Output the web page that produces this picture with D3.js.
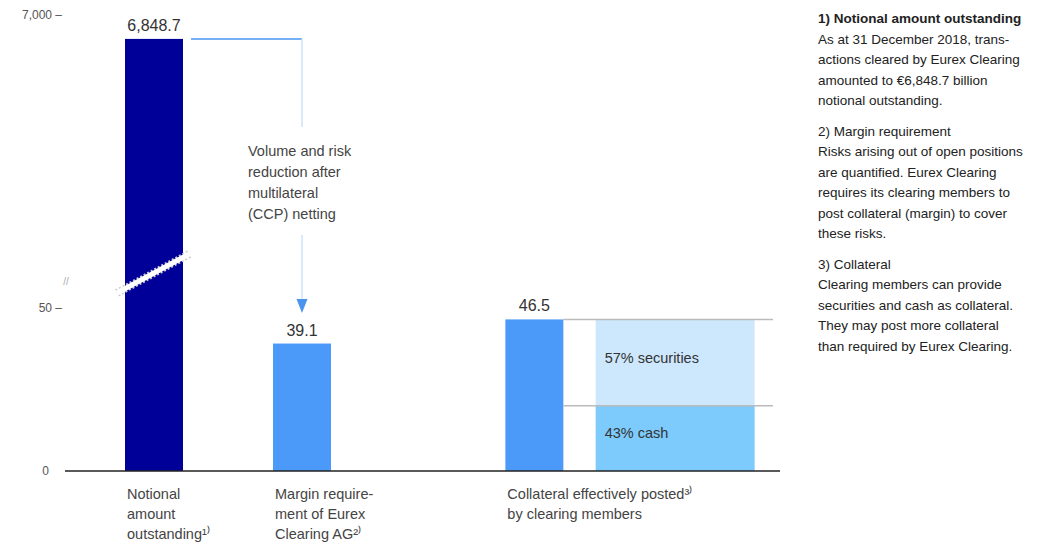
<!DOCTYPE html>
<html lang="en">
<head>
<meta charset="UTF-8">
<title>Eurex Clearing - netting and collateral</title>
<script src="https://cdn.jsdelivr.net/npm/d3@7/dist/d3.min.js"></script>
<style>
  body { margin: 0; background: #fff; }
  svg text { font-family: "Liberation Sans", Arial, sans-serif; }
</style>
</head>
<body>
<div id="container"></div>
<script>
// ---- data ----
var categories = ["Notional amount outstanding", "Margin requirement of Eurex Clearing AG", "Collateral effectively posted by clearing members"];
var values = [6848.7, 39.1, 46.5];
var valueLabels = ["6,848.7", "39.1", "46.5"];
var slots = [0, 1, 2.57];          // horizontal slot of each bar
var categoryLines = [
  ["Notional", "amount", "outstanding\u00B9\u207E"],
  ["Margin require-", "ment of Eurex", "Clearing AG\u00B2\u207E"],
  ["Collateral effectively posted\u00B3\u207E", "by clearing members"]
];
var splitNames = ["43% cash", "57% securities"];
var splitShares = [0.43, 0.57];
var lowTicks = [0, 50];
var highTicks = [7000];
var annotationLines = ["Volume and risk", "reduction after", "multilateral", "(CCP) netting"];
var notes = [
  { head: "1) Notional amount outstanding", bold: true,
    body: ["As at 31 December 2018, trans-", "actions cleared by Eurex Clearing", "amounted to \u20AC6,848.7 billion", "notional outstanding."] },
  { head: "2) Margin requirement", bold: false,
    body: ["Risks arising out of open positions", "are quantified. Eurex Clearing", "requires its clearing members to", "post collateral (margin) to cover", "these risks."] },
  { head: "3) Collateral", bold: false,
    body: ["Clearing members can provide", "securities and cash as collateral.", "They may post more collateral", "than required by Eurex Clearing."] }
];

var navy = "#000099", blue = "#4b9afa", cashColor = "#7dcbfc", secColor = "#cde8fd";

var width = 1053, height = 544;
var svg = d3.select("#container").append("svg")
    .attr("width", width).attr("height", height);

// broken y axis: lower segment and upper segment
var yLow = d3.scaleLinear().domain([0, 50]).range([471, 308]);
var yHigh = d3.scaleLinear().domain([6500, 7000]).range([94, 15]);
var x = d3.scaleLinear().domain([0, 1]).range([125, 273]);
var barW = 58;

// tick labels
lowTicks.forEach(function (t) {
  svg.append("text").attr("x", t === 0 ? 49 : 62).attr("y", yLow(t)).attr("dy", "0.35em")
    .attr("text-anchor", "end").attr("font-size", 12).attr("fill", "#555")
    .text(t === 0 ? d3.format(",")(t) : d3.format(",")(t) + " \u2013");
});
highTicks.forEach(function (t) {
  svg.append("text").attr("x", 62).attr("y", yHigh(t)).attr("dy", "0.35em")
    .attr("text-anchor", "end").attr("font-size", 12).attr("fill", "#555")
    .text(d3.format(",")(t) + " \u2013");
});
svg.append("text").attr("x", 66).attr("y", 285).attr("text-anchor", "middle")
  .attr("font-size", 10).attr("fill", "#aaa").text("//");

// bars
function barTop(v) { return v > 50 ? yHigh(v) : yLow(v); }
svg.selectAll("rect.bar").data(values).enter().append("rect")
  .attr("class", "bar")
  .attr("x", function (d, i) { return x(slots[i]); })
  .attr("y", function (d) { return barTop(d); })
  .attr("width", barW)
  .attr("height", function (d) { return yLow(0) - barTop(d); })
  .attr("fill", function (d, i) { return i === 0 ? navy : blue; });

// break stripe on the big bar
var bx0 = x(slots[0]), bx1 = bx0 + barW;
svg.append("line").attr("x1", bx0 - 8).attr("y1", 293).attr("x2", bx1 + 8).attr("y2", 253)
  .attr("stroke", "#ccc").attr("stroke-width", 8).attr("stroke-dasharray", "2,2");
svg.append("line").attr("x1", bx0 - 8).attr("y1", 293).attr("x2", bx1 + 8).attr("y2", 253)
  .attr("stroke", "#fff").attr("stroke-width", 5);

// value labels
svg.selectAll("text.val").data(values).enter().append("text")
  .attr("class", "val")
  .attr("x", function (d, i) { return x(slots[i]) + barW / 2; })
  .attr("y", function (d) { return barTop(d) - 8; })
  .attr("text-anchor", "middle").attr("font-size", 16).attr("fill", "#333")
  .text(function (d, i) { return valueLabels[i]; });

// collateral split box
var boxX = x(3.18), boxW = 159;
var total = values[2];
var acc = 0;
var parts = splitShares.map(function (s, i) {
  var p = { name: splitNames[i], lo: acc, hi: acc + s * total };
  acc += s * total;
  return p;
});
svg.selectAll("rect.split").data(parts).enter().append("rect")
  .attr("class", "split")
  .attr("x", boxX).attr("width", boxW)
  .attr("y", function (d) { return yLow(d.hi); })
  .attr("height", function (d) { return yLow(d.lo) - yLow(d.hi); })
  .attr("fill", function (d, i) { return i === 0 ? cashColor : secColor; });
parts.forEach(function (p) {
  svg.append("line").attr("x1", x(slots[2]) + barW).attr("x2", 773)
    .attr("y1", yLow(p.hi)).attr("y2", yLow(p.hi))
    .attr("stroke", "#bbb").attr("stroke-width", 1.5);
  svg.append("text").attr("x", boxX + 9).attr("y", (yLow(p.lo) + yLow(p.hi)) / 2 - 5)
    .attr("dy", "0.35em").attr("font-size", 14.5).attr("fill", "#333").text(p.name);
});

// baseline
svg.append("line").attr("x1", 65).attr("x2", 780).attr("y1", yLow(0)).attr("y2", yLow(0))
  .attr("stroke", "#222").attr("stroke-width", 1.5);

// category labels
categoryLines.forEach(function (lines, i) {
  var t = svg.append("text").attr("x", x(slots[i]) + 2).attr("y", 499)
    .attr("font-size", 14.5).attr("fill", "#444");
  lines.forEach(function (l, k) {
    t.append("tspan").attr("x", x(slots[i]) + 2).attr("dy", k === 0 ? 0 : 20).text(l);
  });
});

// netting annotation
var ax = x(slots[1]) + barW / 2;
var topY = yHigh(values[0]);
svg.append("line").attr("x1", bx1 + 8).attr("x2", ax).attr("y1", topY).attr("y2", topY)
  .attr("stroke", "#4a94f0").attr("stroke-width", 1.5);
svg.append("line").attr("x1", ax).attr("x2", ax).attr("y1", topY).attr("y2", 127)
  .attr("stroke", "#cfe2fb").attr("stroke-width", 1.5);
var at = svg.append("text").attr("x", 248).attr("y", 156).attr("font-size", 14.5).attr("fill", "#444");
annotationLines.forEach(function (l, k) {
  at.append("tspan").attr("x", 248).attr("dy", k === 0 ? 0 : 21).text(l);
});
svg.append("line").attr("x1", ax).attr("x2", ax).attr("y1", 235).attr("y2", 302)
  .attr("stroke", "#cfe2fb").attr("stroke-width", 1.5);
svg.append("path").attr("d", "M" + (ax - 5.5) + ",299 L" + (ax + 5.5) + ",299 L" + ax + ",313 Z")
  .attr("fill", "#4a94f0");

// footnotes
var ny = 23;
notes.forEach(function (n) {
  svg.append("text").attr("x", 818).attr("y", ny).attr("font-size", 13.5)
    .attr("font-weight", n.bold ? "bold" : "normal").attr("fill", "#222").text(n.head);
  ny += 20.5;
  n.body.forEach(function (l) {
    svg.append("text").attr("x", 818).attr("y", ny).attr("font-size", 13.5).attr("fill", "#222").text(l);
    ny += 20.5;
  });
  ny += 10;
});
</script>
</body>
</html>
